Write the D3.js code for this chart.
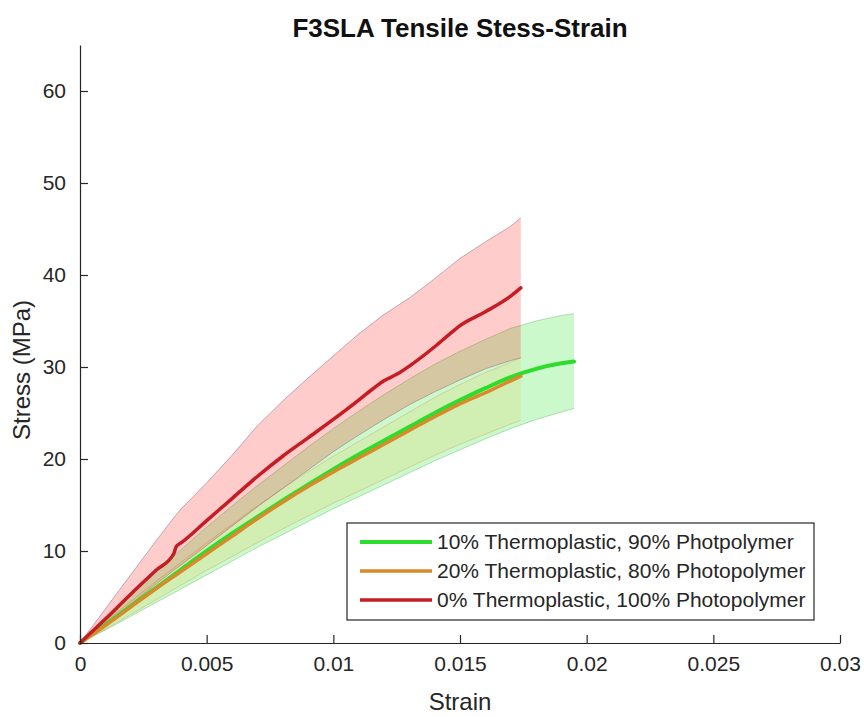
<!DOCTYPE html>
<html><head><meta charset="utf-8">
<script src="https://cdn.jsdelivr.net/npm/d3@7"></script>
<style>body{margin:0;background:#fff}text{font-family:"Liberation Sans",Arial,sans-serif}</style>
</head><body>
<svg id="c" width="864" height="717"></svg>
<script>
// ---------- data ----------
const titleText = "F3SLA Tensile Stess-Strain";
const xLabel = "Strain";
const yLabel = "Stress (MPa)";
const xTicks = [0, 0.005, 0.01, 0.015, 0.02, 0.025, 0.03];
const xTickLabels = ["0", "0.005", "0.01", "0.015", "0.02", "0.025", "0.03"];
const yTicks = [0, 10, 20, 30, 40, 50, 60];
const yTickLabels = ["0", "10", "20", "30", "40", "50", "60"];
const seriesNames = ["10% Thermoplastic, 90% Photpolymer", "20% Thermoplastic, 80% Photopolymer", "0% Thermoplastic, 100% Photopolymer"];

// 10% thermoplastic (green)
const greenStrain = [0,0.001,0.002,0.003,0.004,0.005,0.006,0.007,0.008,0.009,0.010,0.011,0.012,0.013,0.014,0.015,0.016,0.017,0.018,0.019,0.0195];
const greenMean   = [0,2.0,4.0,6.0,8.0,10.0,11.9,13.7,15.5,17.2,18.9,20.5,22.0,23.5,25.0,26.4,27.7,28.9,29.8,30.4,30.6];
const greenUpper  = [0,2.6,5.2,7.7,10.2,12.6,14.9,17.1,19.2,21.3,23.3,25.2,27.0,28.7,30.3,31.7,33.0,34.2,35.0,35.6,35.8];
const greenLower  = [0,1.4,2.9,4.4,5.9,7.4,8.9,10.4,11.8,13.2,14.6,15.9,17.2,18.5,19.8,21.0,22.2,23.3,24.3,25.1,25.5];

// 20% thermoplastic (orange)
const orangeStrain = [0,0.001,0.002,0.003,0.004,0.005,0.006,0.007,0.008,0.009,0.010,0.011,0.012,0.013,0.014,0.015,0.016,0.017,0.0174];
const orangeMean   = [0,1.9,3.9,5.9,7.8,9.7,11.6,13.5,15.3,17.0,18.6,20.1,21.6,23.1,24.6,26.0,27.2,28.5,29.0];
const orangeUpper  = [0,2.3,4.5,6.7,8.8,10.9,12.9,14.9,16.8,18.6,20.3,21.9,23.5,25.1,26.7,28.1,29.4,30.5,31.0];
const orangeLower  = [0,1.5,3.1,4.7,6.3,7.9,9.4,10.9,12.4,13.8,15.2,16.5,17.8,19.1,20.4,21.6,22.7,23.8,24.2];

// 0% thermoplastic (red)
const redStrain = [0,0.001,0.002,0.003,0.0037,0.0038,0.004,0.005,0.006,0.007,0.008,0.009,0.010,0.011,0.0115,0.012,0.0125,0.013,0.014,0.0146,0.015,0.016,0.017,0.0174];
const redMean   = [0,2.6,5.3,7.9,9.7,10.5,10.9,13.3,15.7,18.1,20.3,22.3,24.3,26.4,27.5,28.5,29.2,30.1,32.2,33.6,34.5,36.0,37.7,38.6];
const redBandStrain = [0,0.001,0.002,0.003,0.0037,0.004,0.005,0.006,0.007,0.008,0.009,0.010,0.011,0.012,0.013,0.014,0.015,0.016,0.017,0.0174];
const redUpper = [0,3.7,7.4,11.1,13.6,14.6,17.4,20.4,23.6,26.3,28.8,31.2,33.6,35.7,37.5,39.6,41.8,43.6,45.3,46.2];
const redLower = [0,2.1,4.2,6.4,7.9,8.5,10.6,12.7,14.8,16.8,18.8,20.8,22.6,24.3,25.9,27.3,28.6,29.8,30.7,31.0];

// ---------- chart ----------
const svg = d3.select("#c");
const x = d3.scaleLinear().domain([0, 0.03]).range([80, 840]);
const y = d3.scaleLinear().domain([0, 65]).range([643, 45]);
const ink = "#262626";

const zipBand = (s, lo, hi) => s.map((v, i) => ({s: v, lo: lo[i], hi: hi[i]}));
const zipLine = (s, m) => s.map((v, i) => ({s: v, v: m[i]}));
const area = d3.area().x(d => x(d.s)).y0(d => y(d.lo)).y1(d => y(d.hi));
const line = d3.line().x(d => x(d.s)).y(d => y(d.v));
const smooth = d3.line().x(d => x(d.s)).y(d => y(d.v)).curve(d3.curveMonotoneX);

const bands = [
  {s: greenStrain, lo: greenLower, hi: greenUpper, fill: "rgba(0,225,0,0.2)", edge: "rgba(60,170,60,0.35)"},
  {s: orangeStrain, lo: orangeLower, hi: orangeUpper, fill: "rgba(255,170,0,0.12)", edge: "rgba(200,140,90,0.35)"},
  {s: redBandStrain, lo: redLower, hi: redUpper, fill: "rgba(255,0,0,0.2)", edge: "rgba(150,110,120,0.55)"}
];
bands.forEach(b => {
  const d = zipBand(b.s, b.lo, b.hi);
  svg.append("path").datum(d).attr("d", area).attr("fill", b.fill).attr("stroke", "none");
  svg.append("path").datum(zipLine(b.s, b.hi)).attr("d", line).attr("fill", "none").attr("stroke", b.edge).attr("stroke-width", 1);
  svg.append("path").datum(zipLine(b.s, b.lo)).attr("d", line).attr("fill", "none").attr("stroke", b.edge).attr("stroke-width", 1);
});

const means = [
  {s: greenStrain, m: greenMean, c: "#2edc2e", w: 4},
  {s: orangeStrain, m: orangeMean, c: "#d98a2a", w: 3.5},
  {s: redStrain, m: redMean, c: "#c41e24", w: 3.5}
];
means.forEach(m => {
  svg.append("path").datum(zipLine(m.s, m.m)).attr("d", smooth).attr("fill", "none")
    .attr("stroke", m.c).attr("stroke-width", m.w).attr("stroke-linejoin", "round").attr("stroke-linecap", "round");
});

// axes
const xAxis = d3.axisBottom(x).tickValues(xTicks).tickFormat((d, i) => xTickLabels[i]).tickSize(-8).tickSizeOuter(0).tickPadding(13);
const yAxis = d3.axisLeft(y).tickValues(yTicks).tickFormat((d, i) => yTickLabels[i]).tickSize(-8).tickSizeOuter(0).tickPadding(14);
const gx = svg.append("g").attr("transform", "translate(0,643)").call(xAxis);
const gy = svg.append("g").attr("transform", "translate(80,0)").call(yAxis);
[gx, gy].forEach(g => {
  g.select(".domain").attr("stroke", ink).attr("stroke-width", 1.2);
  g.selectAll(".tick line").attr("stroke", ink).attr("stroke-width", 1.2);
  g.selectAll(".tick text").attr("fill", ink).style("font-size", "21px").style("font-family", "'Liberation Sans',Arial,sans-serif");
});

// title & labels
svg.append("text").attr("x", 460).attr("y", 37).attr("text-anchor", "middle")
  .style("font-size", "26px").style("font-weight", "bold").attr("fill", "#111").text(titleText);
svg.append("text").attr("x", 460).attr("y", 710).attr("text-anchor", "middle")
  .style("font-size", "24px").attr("fill", ink).text(xLabel);
svg.append("text").attr("transform", "translate(30,370) rotate(-90)").attr("text-anchor", "middle")
  .style("font-size", "24px").attr("fill", ink).text(yLabel);

// legend
const lg = svg.append("g");
lg.append("rect").attr("x", 347).attr("y", 523).attr("width", 467).attr("height", 97)
  .attr("fill", "#fff").attr("stroke", ink).attr("stroke-width", 1.2);
const legendY = [542, 571, 600];
seriesNames.forEach((n, i) => {
  lg.append("line").attr("x1", 360).attr("x2", 432).attr("y1", legendY[i]).attr("y2", legendY[i])
    .attr("stroke", means[i].c).attr("stroke-width", means[i].w);
  lg.append("text").attr("x", 437).attr("y", legendY[i] + 7).style("font-size", "21px").attr("fill", ink).text(n);
});
</script>
</body></html>
